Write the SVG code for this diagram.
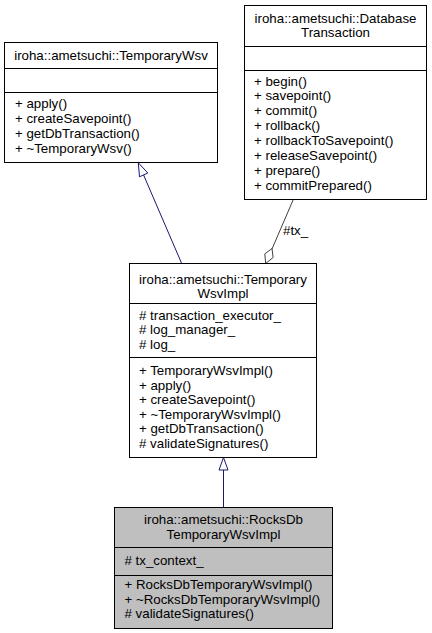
<svg xmlns="http://www.w3.org/2000/svg" width="432" height="633" viewBox="0 0 432 633">
<style>
  .box { fill: #ffffff; stroke: #000000; stroke-width: 1; }
  .grey { fill: #bfbfbf; }
  .sep { stroke: #000000; stroke-width: 1; fill: none; }
  text { font-family: "Liberation Sans", Arial, Helvetica, sans-serif; font-size: 13.3px; fill: #000000; }
  .c { text-anchor: middle; }
  .inh { stroke: #191970; stroke-width: 1; fill: none; }
  .inhHead { stroke: #191970; stroke-width: 1; fill: #ffffff; }
  .agg { stroke: #404040; stroke-width: 1; fill: none; }
  .aggHead { stroke: #404040; stroke-width: 1; fill: #ffffff; }
</style>
<rect width="432" height="633" fill="#ffffff"/>
<g id="connectors">
  <path class="inh" d="M181.7,263.5 L143.6,175"/>
  <polygon class="inhHead" points="138.3,162.8 147.8,173 139.5,176.8"/>
  <path class="agg" d="M293.3,199.5 L272,249"/>
  <polygon class="aggHead" points="265.7,263.5 264.8,253.9 272,248.5 273.1,257.5"/>
  <text x="283" y="235">#tx_</text>
  <path class="inh" d="M223.5,507.5 L223.5,470"/>
  <polygon class="inhHead" points="223.5,457.5 219,470 228,470"/>
</g>
<g id="TemporaryWsv">
  <rect class="box" x="4.5" y="42.5" width="213" height="120"/>
  <path class="sep" d="M4.5,68.5 H217.5 M4.5,92.5 H217.5"/>
  <text class="c" x="111" y="59.5">iroha::ametsuchi::TemporaryWsv</text>
  <text x="15" y="108">+ apply()</text>
  <text x="15" y="122.9">+ createSavepoint()</text>
  <text x="15" y="137.8">+ getDbTransaction()</text>
  <text x="15" y="152.7">+ ~TemporaryWsv()</text>
</g>
<g id="DatabaseTransaction">
  <rect class="box" x="244.5" y="5.5" width="182" height="194"/>
  <path class="sep" d="M244.5,46.5 H426.5 M244.5,70.5 H426.5"/>
  <text class="c" x="335.5" y="22.5">iroha::ametsuchi::Database</text>
  <text class="c" x="335.5" y="37">Transaction</text>
  <text x="254" y="85.5">+ begin()</text>
  <text x="254" y="100.4">+ savepoint()</text>
  <text x="254" y="115.3">+ commit()</text>
  <text x="254" y="130.2">+ rollback()</text>
  <text x="254" y="145.1">+ rollbackToSavepoint()</text>
  <text x="254" y="160">+ releaseSavepoint()</text>
  <text x="254" y="174.9">+ prepare()</text>
  <text x="254" y="189.8">+ commitPrepared()</text>
</g>
<g id="TemporaryWsvImpl">
  <rect class="box" x="129.5" y="263.5" width="187" height="194"/>
  <path class="sep" d="M129.5,303.5 H316.5 M129.5,357.5 H316.5"/>
  <text class="c" x="223" y="283.5">iroha::ametsuchi::Temporary</text>
  <text class="c" x="223" y="298">WsvImpl</text>
  <text x="139" y="319.5"># transaction_executor_</text>
  <text x="139" y="334"># log_manager_</text>
  <text x="139" y="348.5"># log_</text>
  <text x="139" y="375">+ TemporaryWsvImpl()</text>
  <text x="139" y="389.5">+ apply()</text>
  <text x="139" y="404">+ createSavepoint()</text>
  <text x="139" y="418.5">+ ~TemporaryWsvImpl()</text>
  <text x="139" y="433">+ getDbTransaction()</text>
  <text x="139" y="447.5"># validateSignatures()</text>
</g>
<g id="RocksDbTemporaryWsvImpl">
  <rect class="box grey" x="114.5" y="507.5" width="218" height="121"/>
  <path class="sep" d="M114.5,547.5 H332.5 M114.5,575.5 H332.5"/>
  <text class="c" x="223.5" y="524">iroha::ametsuchi::RocksDb</text>
  <text class="c" x="223.5" y="538.5">TemporaryWsvImpl</text>
  <text x="124.5" y="565"># tx_context_</text>
  <text x="124.5" y="589">+ RocksDbTemporaryWsvImpl()</text>
  <text x="124.5" y="603.5">+ ~RocksDbTemporaryWsvImpl()</text>
  <text x="124.5" y="618"># validateSignatures()</text>
</g>
</svg>
